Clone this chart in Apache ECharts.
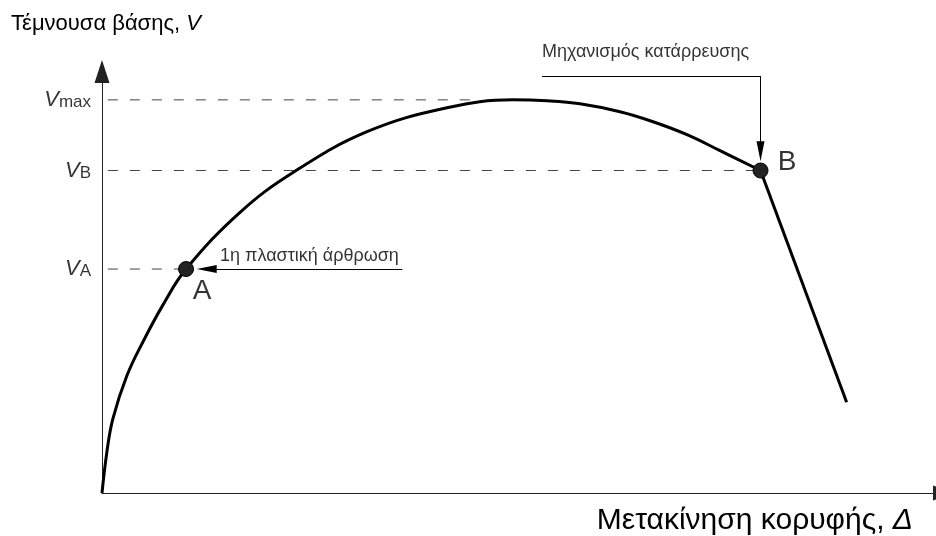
<!DOCTYPE html>
<html>
<head>
<meta charset="utf-8">
<script src="https://cdn.jsdelivr.net/npm/echarts@6/dist/echarts.min.js"></script>
<style>
html,body{margin:0;padding:0;background:#fff;}
#chart{width:936px;height:536px;}
</style>
</head>
<body>
<div id="chart"></div>
<script>
// ---- data (abstract units: x 0..100, y 0..100) ----
const curveX = [0, 0.60, 1.32, 3.00, 4.93, 7.33, 10.10, 16.59, 22.96, 31.85, 41.47, 49.40, 53.49, 57.45, 62.26, 66.23, 70.31, 74.28, 79.15];
const curveY = [0, 9.86, 17.61, 27.70, 35.68, 44.37, 52.82, 66.20, 75.59, 85.21, 90.85, 92.72, 92.49, 91.78, 89.91, 87.56, 84.51, 80.75, 76.06];
const collapseX = [79.15, 89.5];
const collapseY = [76.06, 21.4];
const levelSubs = ['max', 'B', 'A'];
const levelValues = [92.72, 76.06, 52.82];
const levelDashStart = [0.7, 0.7, 0.7];
const levelDashEnd = [45.6, 78.4, 9.4];
const pointNames = ['A', 'B'];
const pointX = [10.10, 79.15];
const pointY = [52.82, 76.06];
const pointLabelX = [12.02, 82.33];
const pointLabelY = [47.65, 77.93];
const yTitle = 'Τέμνουσα βάσης, ';
const yTitleVar = 'V';
const xTitle = 'Μετακίνηση κορυφής, ';
const xTitleVar = 'Δ';
const noteTexts = ['1η πλαστική άρθρωση', 'Μηχανισμός κατάρρευσης'];
const noteX = [14.18, 52.88];
const noteY = [55.82, 104.0];
// leader lines: [x1, y1, x2, y2]
const leaderA = [36.1, 52.82, 12.58, 52.82];
const leaderBh = [52.88, 98.36, 79.15, 98.36];
const leaderBv = [79.15, 98.36, 79.15, 80.59];

const FONT = 'Liberation Sans';
const zip = (xs, ys) => xs.map((x, i) => [x, ys[i]]);

const chart = echarts.init(document.getElementById('chart'), null, {renderer: 'canvas'});

const dashSeries = levelValues.map((v, i) => ({
  type: 'line',
  data: [[levelDashStart[i], v], [levelDashEnd[i], v]],
  showSymbol: false,
  silent: true,
  lineStyle: {color: '#444', width: 1, type: [10, 12]},
  z: 1
}));

const option = {
  animation: false,
  backgroundColor: '#fff',
  grid: {left: 102, right: 2, top: 69, bottom: 41, containLabel: false},
  xAxis: {
    type: 'value', min: 0, max: 100,
    name: '{n|' + xTitle + '}{i|' + xTitleVar + '}',
    nameLocation: 'end', nameGap: -21,
    nameTextStyle: {
      align: 'right', verticalAlign: 'top', padding: [13, 0, 0, 0],
      rich: {
        n: {fontFamily: FONT, fontSize: 30, color: '#000'},
        i: {fontFamily: FONT, fontSize: 30, fontStyle: 'italic', color: '#000'}
      }
    },
    axisLine: {lineStyle: {color: '#222', width: 1}, symbol: ['none', 'triangle'], symbolSize: [15, 23], symbolOffset: [0, 10.5]},
    axisTick: {show: false}, axisLabel: {show: false}, splitLine: {show: false}
  },
  yAxis: {
    type: 'value', min: 0, max: 100,
    name: '{n|' + yTitle + '}{i|' + yTitleVar + '}',
    nameLocation: 'end', nameGap: 45,
    nameTextStyle: {
      align: 'center', verticalAlign: 'middle', padding: [0, 0, 0, 8],
      rich: {
        n: {fontFamily: FONT, fontSize: 22, color: '#000'},
        i: {fontFamily: FONT, fontSize: 22, fontStyle: 'italic', color: '#000'}
      }
    },
    axisLine: {lineStyle: {color: '#222', width: 1}, symbol: ['none', 'triangle'], symbolSize: [15, 23], symbolOffset: [0, -2.5]},
    axisTick: {show: false}, axisLabel: {show: false}, splitLine: {show: false}
  },
  series: [
    ...dashSeries,
    {
      type: 'line', data: zip(curveX, curveY), smooth: 0.4, showSymbol: false, silent: true,
      lineStyle: {color: '#000', width: 3}, z: 3
    },
    {
      type: 'line', data: zip(collapseX, collapseY), showSymbol: false, silent: true,
      lineStyle: {color: '#000', width: 3}, z: 3
    },
    {
      type: 'scatter', data: zip(pointX, pointY), symbolSize: 15, silent: true,
      itemStyle: {color: '#222', borderColor: '#000', borderWidth: 1, opacity: 1}, z: 5
    },
    {
      // y-level labels
      type: 'scatter', clip: false, silent: true,
      data: levelValues.map((v, i) => ({value: [0, v], sub: levelSubs[i]})),
      symbolSize: 0, itemStyle: {color: 'transparent'},
      label: {
        show: true, position: 'left', distance: 11,
        formatter: p => '{v|V}{s|' + p.data.sub + '}',
        rich: {
          v: {fontFamily: FONT, fontSize: 22, fontStyle: 'italic', color: '#000', verticalAlign: 'bottom'},
          s: {fontFamily: FONT, fontSize: 17, color: '#000', verticalAlign: 'bottom'}
        }
      }
    },
    {
      // point labels A, B
      type: 'scatter', clip: false, silent: true,
      data: pointNames.map((n, i) => ({value: [pointLabelX[i], pointLabelY[i]], name: n})),
      symbolSize: 0, itemStyle: {color: 'transparent'},
      label: {
        show: true, position: [0, 0], align: 'center', verticalAlign: 'middle',
        formatter: p => p.name, fontFamily: FONT, fontSize: 28, color: '#000'
      }
    },
    {
      // notes + leader arrows
      type: 'scatter', clip: false, silent: true,
      data: noteTexts.map((t, i) => ({value: [noteX[i], noteY[i]], name: t})),
      symbolSize: 0, itemStyle: {color: 'transparent'},
      label: {
        show: true, position: [0, 0], align: 'left', verticalAlign: 'middle',
        formatter: p => p.name, fontFamily: FONT, fontSize: 18, color: '#000'
      },
      markLine: {
        silent: true, animation: false,
        symbol: ['none', 'triangle'], symbolSize: [8, 20],
        label: {show: false},
        lineStyle: {color: '#000', width: 1, type: 'solid'},
        emphasis: {disabled: true},
        data: [
          [{coord: [leaderA[0], leaderA[1]]}, {coord: [leaderA[2], leaderA[3]]}],
          [{coord: [leaderBh[0], leaderBh[1]], symbol: 'none'}, {coord: [leaderBh[2], leaderBh[3]], symbol: 'none'}],
          [{coord: [leaderBv[0], leaderBv[1]]}, {coord: [leaderBv[2], leaderBv[3]]}]
        ]
      }
    }
  ]
};
chart.setOption(option);
</script>
</body>
</html>
